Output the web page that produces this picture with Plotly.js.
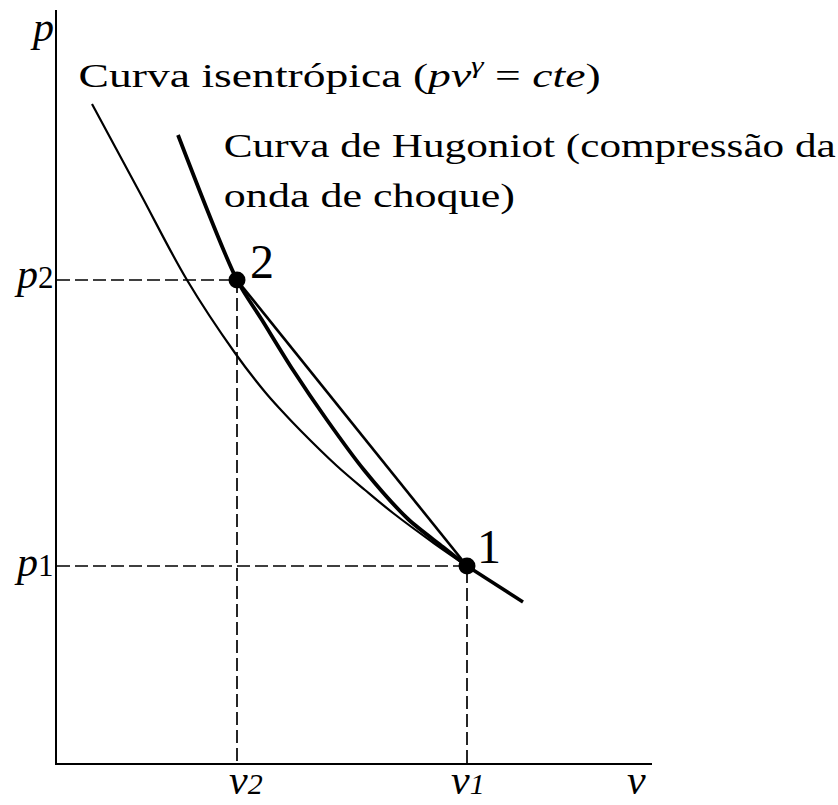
<!DOCTYPE html>
<html>
<head>
<meta charset="utf-8">
<script src="https://cdn.plot.ly/plotly-3.0.1.min.js"></script>
<style>
  html, body { margin: 0; padding: 0; background: #fff; }
  #chart { width: 838px; height: 805px; }
</style>
</head>
<body>
<div id="chart"></div>
<script>
// Diagrama p–v: curva isentrópica, curva de Hugoniot e reta de Rayleigh (unidades arbitrárias)
const isoV = [0.35, 0.83, 1.30, 1.78, 2.08, 2.24, 2.43, 2.80, 3.08, 3.36, 3.78, 4.10, 4.66];
const isoP = [6.59, 5.70, 4.83, 4.10, 3.71, 3.53, 3.33, 2.97, 2.73, 2.50, 2.19, 1.97, 1.61];

const hugV = [1.21, 1.80, 2.05, 2.36, 2.70, 3.07, 3.51, 3.86, 4.10];
const hugP = [6.28, 4.83, 4.43, 3.93, 3.43, 2.93, 2.44, 2.16, 1.97];

// Estados 1 (antes do choque) e 2 (depois do choque)
const state1 = { v: 4.10, p: 1.97 };
const state2 = { v: 1.80, p: 4.83 };

// Rótulos dos eixos
const xTickVals = [state2.v, state1.v, 5.79];
const xTickText = ['<i>v</i><span style="font-size:30px"><i>2</i></span>',
                   '<i>v</i><span style="font-size:30px"><i>1</i></span>',
                   '<i>v</i>'];
const yTickVals = [state2.p, state1.p, 7.33];
const yTickText = ['<i>p</i><span style="font-size:31px">2</span>',
                   '<i>p</i><span style="font-size:31px">1</span>',
                   '<i>p</i>'];

const serif = 'Liberation Serif, Times New Roman, serif';
const black = 'black';
const dash = { color: black, width: 1.7, dash: '13px,5px' };

// A parte da isentrópica além do estado 1 é desenhada mais grossa
const tailStart = isoV.indexOf(state1.v);

const traces = [
  { x: [0, state2.v, state2.v], y: [state2.p, state2.p, 0], mode: 'lines', line: dash },
  { x: [0, state1.v, state1.v], y: [state1.p, state1.p, 0], mode: 'lines', line: dash },
  { x: isoV.slice(0, tailStart + 1), y: isoP.slice(0, tailStart + 1), mode: 'lines',
    line: { color: black, width: 2.2, shape: 'spline', smoothing: 1 } },
  { x: isoV.slice(tailStart), y: isoP.slice(tailStart), mode: 'lines',
    line: { color: black, width: 3.4 } },
  { x: hugV, y: hugP, mode: 'lines',
    line: { color: black, width: 3.8, shape: 'spline', smoothing: 0.8 } },
  { x: [state2.v, state1.v], y: [state2.p, state1.p], mode: 'lines',
    line: { color: black, width: 2.6 } },
  { x: [state2.v, state1.v], y: [state2.p, state1.p], mode: 'markers',
    marker: { color: black, size: 17 } }
];

const labelFont = { family: serif, size: 42, color: black };
const textFont = { family: serif, size: 34, color: black };

const annotations = [];

// rótulos do eixo v
const xShifts = [9, 1, 0];
const yShiftsX = [-17, -17, -17];
xTickVals.forEach((v, i) => annotations.push({
  x: v, y: 0, xref: 'x', yref: 'y', xanchor: 'center', yanchor: 'middle',
  xshift: xShifts[i], yshift: yShiftsX[i], showarrow: false, font: labelFont, text: xTickText[i]
}));

// rótulos do eixo p
const yShifts = [6, 4, 3];
yTickVals.forEach((p, i) => annotations.push({
  x: 0, y: p, xref: 'x', yref: 'y', xanchor: 'right', yanchor: 'middle',
  xshift: -1, yshift: yShifts[i], showarrow: false, font: labelFont, text: yTickText[i]
}));

// legendas das curvas (com a largura de cada linha de texto)
const captions = [
  { text: 'Curva isentrópica (<i>pv<sup>γ</sup></i> = <i>cte</i>)', x: 2.82, y: 6.90, width: 522 },
  { text: 'Curva de Hugoniot (compressão da', x: 4.73, y: 6.17, width: 612 },
  { text: 'onda de choque)', x: 3.125, y: 5.67, width: 291 }
];
const captionStart = annotations.length;
captions.forEach(c => annotations.push({
  x: c.x, y: c.y, xref: 'x', yref: 'y', xanchor: 'center', yanchor: 'middle',
  showarrow: false, font: textFont, text: c.text
}));

// números dos estados
annotations.push({ x: state2.v, y: state2.p, xref: 'x', yref: 'y', xanchor: 'left', yanchor: 'middle',
  xshift: 11, yshift: 19, showarrow: false, font: { family: serif, size: 48, color: black }, text: '2' });
annotations.push({ x: state1.v, y: state1.p, xref: 'x', yref: 'y', xanchor: 'left', yanchor: 'middle',
  xshift: 8, yshift: 20, showarrow: false, font: { family: serif, size: 48, color: black }, text: '1' });

const layout = {
  width: 838, height: 805,
  margin: { l: 57, r: 186, t: 10, b: 42 },
  paper_bgcolor: '#fff', plot_bgcolor: '#fff',
  showlegend: false,
  font: { family: serif, color: black, size: 34 },
  xaxis: {
    range: [0, 5.95], showgrid: false, zeroline: false,
    showline: true, linecolor: black, linewidth: 2,
    ticks: '', showticklabels: false
  },
  yaxis: {
    range: [0, 7.53], showgrid: false, zeroline: false,
    showline: true, linecolor: black, linewidth: 2,
    ticks: '', showticklabels: false
  },
  annotations: annotations
};

Plotly.newPlot('chart', traces, layout, { staticPlot: true, displayModeBar: false }).then(gd => {
  // as legendas são largas: ajusta cada linha à sua largura
  captions.forEach((c, i) => {
    const t = gd.querySelector('.annotation[data-index="' + (captionStart + i) + '"] text.annotation-text');
    if (t) {
      t.setAttribute('textLength', c.width);
      t.setAttribute('lengthAdjust', 'spacingAndGlyphs');
    }
  });
});
</script>
</body>
</html>
